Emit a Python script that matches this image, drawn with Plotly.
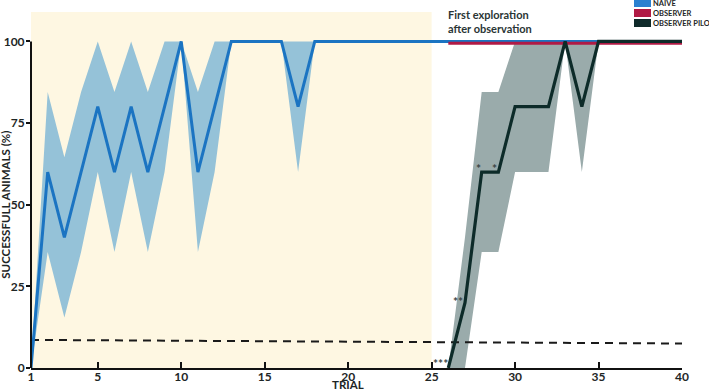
import plotly.graph_objects as go

# ---- data ----
naive_trials = list(range(1, 41))
naive_mean = [0, 60, 40, 60, 80, 60, 80, 60, 80, 100, 60, 80, 100, 100, 100, 100, 80, 100,
              100, 100, 100, 100, 100, 100, 100, 100, 100, 100, 100, 100, 100, 100, 100, 100,
              100, 100, 100, 100, 100, 100]
naive_lo = [0, 35.5, 15.5, 35.5, 60, 35.5, 60, 35.5, 60, 100, 35.5, 60, 100, 100, 100, 100, 60, 100,
            100, 100, 100, 100, 100, 100, 100, 100, 100, 100, 100, 100, 100, 100, 100, 100,
            100, 100, 100, 100, 100, 100]
naive_hi = [0, 84.5, 64.5, 84.5, 100, 84.5, 100, 84.5, 100, 100, 84.5, 100, 100, 100, 100, 100, 100, 100,
            100, 100, 100, 100, 100, 100, 100, 100, 100, 100, 100, 100, 100, 100, 100, 100,
            100, 100, 100, 100, 100, 100]

obs_trials = list(range(26, 41))
obs_mean = [99.4] * 15

pilo_trials = list(range(26, 41))
pilo_mean = [0, 20, 60, 60, 80, 80, 80, 100, 80, 100, 100, 100, 100, 100, 100]
pilo_lo = [0, 0, 35.5, 35.5, 60, 60, 60, 100, 60, 100, 100, 100, 100, 100, 100]
pilo_hi = [0, 40, 84.5, 84.5, 100, 100, 100, 100, 100, 100, 100, 100, 100, 100, 100]

chance_x = [1, 40]
chance_y = [8.6, 7.5]

x_ticks = [1, 5, 10, 15, 20, 25, 30, 35, 40]
y_ticks = [0, 25, 50, 75, 100]

# ---- styles ----
BLUE = "#1b74c2"
BLUE_BAND = "#95c2d8"
RED = "#b01a45"
DARK = "#0d2b29"
GRAY_BAND = "#9aabab"
CREAM = "#fef7e2"
TXT = "#1e2626"
FONT = "Lato"
NARROW = "Liberation Sans Narrow, Lato"

L, R, T, B = 31, 27, 12, 22
W, H = 709, 390
PW, PH = W - L - R, H - T - B


def px(x):
    return (x - L) / PW


def py(y):
    return (H - B - y) / PH


fig = go.Figure()

# bands
fig.add_trace(go.Scatter(
    x=naive_trials + naive_trials[::-1], y=naive_hi + naive_lo[::-1],
    fill="toself", fillcolor=BLUE_BAND, line=dict(width=0), mode="lines",
    hoverinfo="skip", showlegend=False))
fig.add_trace(go.Scatter(
    x=pilo_trials + pilo_trials[::-1], y=pilo_hi + pilo_lo[::-1],
    fill="toself", fillcolor=GRAY_BAND, line=dict(width=0), mode="lines",
    hoverinfo="skip", showlegend=False))

# chance line
fig.add_trace(go.Scatter(x=chance_x, y=chance_y, mode="lines",
                         line=dict(color="#1a1a1a", width=2, dash="8px,6px"),
                         showlegend=False))

# mean lines
fig.add_trace(go.Scatter(x=naive_trials, y=naive_mean, mode="lines",
                         line=dict(color=BLUE, width=3), name="NAIVE", showlegend=False))
fig.add_trace(go.Scatter(x=obs_trials, y=obs_mean, mode="lines",
                         line=dict(color=RED, width=3), name="OBSERVER", showlegend=False))
fig.add_trace(go.Scatter(x=pilo_trials, y=pilo_mean, mode="lines",
                         line=dict(color=DARK, width=3.2), name="OBSERVER PILO", showlegend=False))

shapes = [
    dict(type="rect", xref="x", yref="y", x0=1, x1=25, y0=0, y1=109,
         fillcolor=CREAM, line=dict(width=0), layer="below"),
    # y axis line up to 100
    dict(type="line", xref="paper", yref="paper", x0=0, x1=0, y0=0, y1=100 / 109,
         line=dict(color="#111", width=2)),
]

STAR = dict(family=FONT, size=12, color="#3a4545", weight="bold")
annotations = [
    dict(text="SUCCESSFULL ANIMALS (%)", xref="paper", yref="y", x=0, y=50, xshift=-25,
         xanchor="center", yanchor="middle",
         textangle=-90, showarrow=False, font=dict(family=FONT, size=11.5, color=TXT, weight="bold")),
    dict(text="TRIAL", xref="x", yref="paper", x=20, y=0, yshift=-16.5, xanchor="center",
         yanchor="middle", showarrow=False, borderpad=0,
         font=dict(family=FONT, size=11.5, color=TXT, weight="bold")),
    dict(text="First exploration<br>after observation", xref="x", yref="paper", x=26, y=py(21.5),
         xanchor="left", yanchor="middle", align="left", showarrow=False, xshift=-2,
         font=dict(family=FONT, size=11, color="#2a3535", weight="bold")),
    dict(text="***", xref="x", yref="y", x=25.55, y=1.5, showarrow=False, font=STAR),
    dict(text="**", xref="x", yref="y", x=26.6, y=20.5, showarrow=False, font=STAR),
    dict(text="*", xref="x", yref="y", x=27.8, y=61, showarrow=False, font=STAR),
    dict(text="*", xref="x", yref="y", x=28.75, y=61, showarrow=False, font=STAR),
]

# legend drawn manually
legend_items = [("NAIVE", "#2a80d0", -1, 7), ("OBSERVER", RED, 9, 17), ("OBSERVER PILO", "#0f2a2a", 19, 27)]
for label, col, y0, y1 in legend_items:
    shapes.append(dict(type="rect", xref="paper", yref="paper", x0=px(634), x1=px(651),
                       y0=py(y1), y1=py(y0), fillcolor=col, line=dict(width=0)))
    annotations.append(dict(text=label, xref="paper", yref="paper", x=px(652), y=py((y0 + y1) / 2 + 0.5),
                            xanchor="left", yanchor="middle", showarrow=False, borderpad=0,
                            font=dict(family=NARROW, size=7.5, color=TXT, weight="bold")))

fig.update_layout(
    width=W, height=H,
    margin=dict(l=L, r=R, t=T, b=B, autoexpand=False),
    paper_bgcolor="white", plot_bgcolor="white",
    shapes=shapes, annotations=annotations,
    showlegend=False,
    font=dict(family=FONT, color=TXT),
)
fig.update_xaxes(range=[1, 40], tickmode="array", tickvals=x_ticks, ticktext=[str(v) for v in x_ticks],
                 automargin=False,
                 showgrid=False, zeroline=False, showline=True, linecolor="#111", linewidth=2,
                 ticks="inside", ticklen=6, tickwidth=2, tickcolor="#111", ticklabelstandoff=-3,
                 tickfont=dict(family=FONT, size=12, color=TXT, weight="bold"))
fig.update_yaxes(range=[0, 109], tickmode="array", tickvals=y_ticks, ticktext=[str(v) for v in y_ticks],
                 automargin=False,
                 showgrid=False, zeroline=False, showline=False,
                 ticks="outside", ticklen=4, tickwidth=2, tickcolor="#111", ticklabelstandoff=-1,
                 tickfont=dict(family=FONT, size=12, color=TXT, weight="bold"))

fig.write_html("out.html", config={"displayModeBar": False},
               post_script="document.body.style.margin='0';document.body.style.overflow='hidden';")
